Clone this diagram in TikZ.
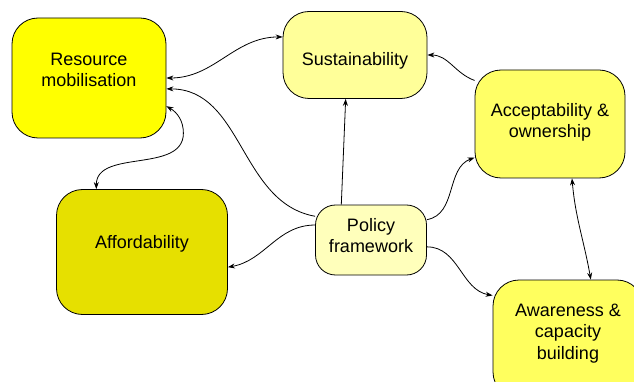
\documentclass[tikz,border=0pt]{standalone}
\usepackage{fontspec}
\setmainfont{Liberation Sans}
\usetikzlibrary{arrows.meta}
\definecolor{resyellow}{HTML}{FFFF00}
\definecolor{susyellow}{HTML}{FFFF99}
\definecolor{accyellow}{HTML}{FFFF66}
\definecolor{affyellow}{HTML}{E6E000}
\definecolor{polyellow}{HTML}{FFFFBB}
\definecolor{awayellow}{HTML}{FFFF5E}
\begin{document}
\begin{tikzpicture}[x=1pt, y=-1pt, >={Stealth[length=7pt, width=5pt]},
	blob/.style={draw, line width=0.8pt, align=center, inner sep=0pt, rounded corners=26pt,
		font=\fontsize{18}{21.5}\selectfont},
	lift/.style={text height=0pt, text depth=#1},
	sink/.style={text height=#1, text depth=0pt},
	link/.style={line width=0.8pt}]
	\path[use as bounding box] (0,0) rectangle (634,382);
	\clip (0,0) rectangle (634,382);
	
	% blobs
	\node[blob, sink=18pt, fill=resyellow, minimum width=154pt, minimum height=120pt] (res) at (89,78) {Resource\\mobilisation};
	\node[blob, sink=22pt, fill=susyellow, minimum width=144pt, minimum height=87pt] (sus) at (355,55) {Sustainability};
	\node[blob, sink=28pt, fill=accyellow, minimum width=150pt, minimum height=108pt] (acc) at (550,124) {Acceptability \&\\ownership};
	\node[blob, lift=8pt, fill=affyellow, minimum width=171pt, minimum height=125pt] (aff) at (142,252) {Affordability};
	\node[blob, sink=25pt, fill=polyellow, minimum width=111pt, minimum height=70pt, rounded corners=20pt] (pol) at (371,240) {Policy\\framework};
	\node[blob, sink=40pt, fill=awayellow, minimum width=150pt, minimum height=118pt] (awa) at (568,339) {Awareness \&\\capacity\\building};
	
	% resources - sustainability
	\draw[link, <->] (res.east) to[out=0, in=180] (sus.166);
	% policy - resources
	\draw[link, ->] (pol.157) to[out=170, in=0] (res.-8);
	% resources - affordability
	\draw[link, <->] (res.-20) to[out=-30, in=90] ++(17,27) to[out=-90, in=90] (aff.126);
	% policy - affordability
	\draw[link, ->] (pol.165) to[out=180, in=10] (aff.-10);
	% policy - sustainability
	\draw[link, ->] (pol.130) -- (sus.-102);
	% acceptability - sustainability
	\draw[link, ->] (acc.150) to[out=160, in=0] (sus.east);
	% policy - acceptability
	\draw[link, ->] (pol.20) to[out=10, in=200] (acc.204);
	% acceptability - awareness
	\draw[link, <->] (acc.-68) to[out=-85, in=100] (awa.69);
	% policy - awareness
	\draw[link, ->] (pol.-7) to[out=0, in=170] (awa.150);
	
\end{tikzpicture}
\end{document}
